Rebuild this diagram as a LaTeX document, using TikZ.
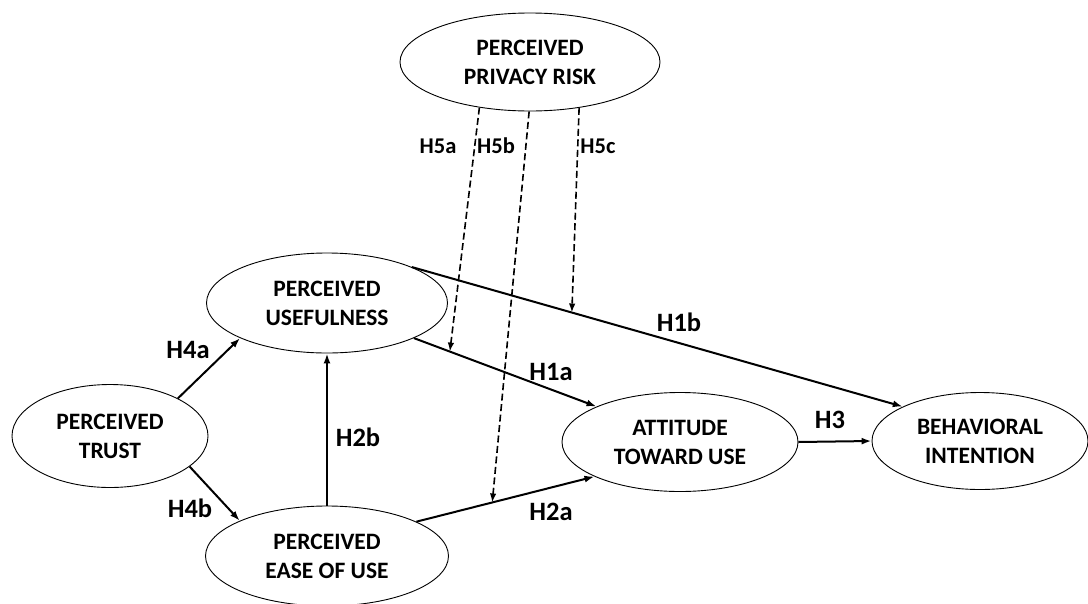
\documentclass[tikz,border=0pt]{standalone}
\usepackage{fontspec}
\setmainfont{Carlito}
\usetikzlibrary{shapes.geometric,arrows.meta}

\begin{document}
\begin{tikzpicture}[x=1pt,y=-1pt,
    construct/.style={draw,ellipse,line width=0.9pt,inner sep=0pt,align=center,
        font=\fontsize{23.5}{29}\selectfont\bfseries},
    link/.style={line width=2pt,-{Latex[length=10pt,width=7pt]}},
    dashlink/.style={line width=1.6pt,dash pattern=on 7pt off 3.5pt,-{Latex[length=9pt,width=6.5pt]}},
    hyp/.style={font=\fontsize{26.5}{30}\selectfont\bfseries},
    hypsmall/.style={font=\fontsize{22.5}{27}\selectfont\bfseries}]
    \useasboundingbox (0,0) rectangle (1088,603);

    \node[construct,minimum width=260pt,minimum height=98pt] (ppr) at (530,62) {PERCEIVED\\PRIVACY RISK};
    \node[construct,minimum width=241pt,minimum height=100pt] (pu) at (327,303) {PERCEIVED\\USEFULNESS};
    \node[construct,minimum width=196pt,minimum height=103pt] (pt) at (110,436) {PERCEIVED\\TRUST};
    \node[construct,minimum width=243pt,minimum height=100pt] (peou) at (327,556) {PERCEIVED\\EASE OF USE};
    \node[construct,minimum width=236pt,minimum height=99pt] (att) at (680,442) {ATTITUDE\\TOWARD USE};
    \node[construct,minimum width=216pt,minimum height=97pt] (bi) at (980,441) {BEHAVIORAL\\INTENTION};

    \draw[link] (pt.29) -- (pu.-158);
    \draw[link] (pt.-21.8) -- (peou.158);
    \draw[link] (peou.90) -- (pu.-90);
    \draw[link] (pu.-22) -- coordinate[pos=0.197] (h1amid) (att.157.6);
    \draw[link] (pu.23) -- coordinate[pos=0.326] (h1bmid) (bi.156.2);
    \draw[link] (peou.21.8) -- coordinate[pos=0.426] (h2amid) (att.202.4);
    \draw[link] (att.east) -- (bi.west);

    \draw[dashlink] (ppr.-138.4) -- (h1amid);
    \draw[dashlink] (ppr.-91) -- (h2amid);
    \draw[dashlink] (ppr.-43.8) -- (h1bmid);

    \node[hyp] (h4a) at (188,350) {H4a};
    \node[hyp] (h4b) at (190,508) {H4b};
    \node[hyp] (h2b) at (358,437) {H2b};
    \node[hyp] (h1a) at (551,372) {H1a};
    \node[hyp] (h1b) at (679,322) {H1b};
    \node[hyp] (h2a) at (551,512) {H2a};
    \node[hyp] (h3) at (830,420) {H3};
    \node[hypsmall] (h5a) at (438,146) {H5a};
    \node[hypsmall] (h5b) at (496,146) {H5b};
    \node[hypsmall] (h5c) at (598,146) {H5c};
\end{tikzpicture}
\end{document}
